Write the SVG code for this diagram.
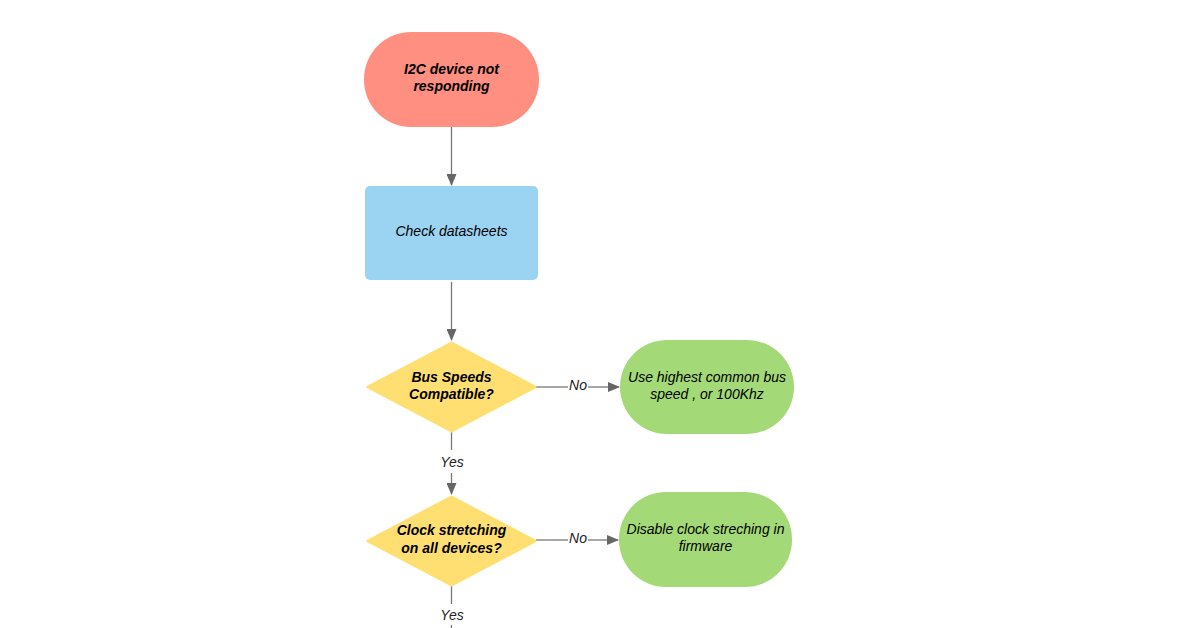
<svg xmlns="http://www.w3.org/2000/svg" width="1200" height="628" viewBox="0 0 1200 628">
<style>
.t{font-family:"Liberation Sans",Arial,sans-serif;font-size:14px;font-style:italic;fill:#000;text-anchor:middle}
.b{font-weight:bold}
.l{font-family:"Liberation Sans",Arial,sans-serif;font-size:14px;font-style:italic;fill:#222;text-anchor:middle}
.c{stroke:#777;stroke-width:1.3;fill:none}
</style>
<defs>
<marker id="ah" markerWidth="12" markerHeight="10" refX="11" refY="5" orient="auto" markerUnits="userSpaceOnUse">
<path d="M0,0 L12,5 L0,10 Z" fill="#666"/>
</marker>
</defs>
<rect width="1200" height="628" fill="#fff"/>
<g id="connectors">
<line class="c" x1="451.5" y1="127" x2="451.5" y2="185" marker-end="url(#ah)"/>
<line class="c" x1="451.5" y1="282" x2="451.5" y2="340" marker-end="url(#ah)"/>
<line class="c" x1="536" y1="387" x2="568" y2="387"/>
<text class="l" x="578" y="390">No</text>
<line class="c" x1="588" y1="387" x2="619" y2="387" marker-end="url(#ah)"/>
<line class="c" x1="451.5" y1="432" x2="451.5" y2="450"/>
<text class="l" x="452" y="467">Yes</text>
<line class="c" x1="451.5" y1="473" x2="451.5" y2="494" marker-end="url(#ah)"/>
<line class="c" x1="536" y1="540" x2="568" y2="540"/>
<text class="l" x="578" y="543">No</text>
<line class="c" x1="588" y1="540" x2="618" y2="540" marker-end="url(#ah)"/>
<line class="c" x1="451.5" y1="586" x2="451.5" y2="604"/>
<text class="l" x="452" y="620">Yes</text>
<line class="c" x1="451.5" y1="625" x2="451.5" y2="628"/>
</g>
<g id="start">
<rect x="364" y="32" width="175" height="95" rx="47" ry="47" fill="#ff8f80"/>
<text class="t b" x="451.5" y="74">I2C device not</text>
<text class="t b" x="451.5" y="91">responding</text>
</g>
<g id="check">
<rect x="365" y="186" width="173" height="94" rx="5" ry="5" fill="#9bd3f2"/>
<text class="t" x="451.5" y="236">Check datasheets</text>
</g>
<g id="bus">
<path d="M451.5,343 L535,387 L451.5,431 L368,387 Z" fill="#ffdf71" stroke="#ffdf71" stroke-width="3" stroke-linejoin="round"/>
<text class="t b" x="451.5" y="382">Bus Speeds</text>
<text class="t b" x="451.5" y="399">Compatible?</text>
</g>
<g id="usehigh">
<rect x="620" y="340" width="174" height="94" rx="47" ry="47" fill="#a3d977"/>
<text class="t" x="707" y="382">Use highest common bus</text>
<text class="t" x="707" y="399">speed , or 100Khz</text>
</g>
<g id="clock">
<path d="M451.5,497 L535,541 L451.5,585 L368,541 Z" fill="#ffdf71" stroke="#ffdf71" stroke-width="3" stroke-linejoin="round"/>
<text class="t b" x="451.5" y="535">Clock stretching</text>
<text class="t b" x="451.5" y="553">on all devices?</text>
</g>
<g id="disable">
<rect x="619" y="492" width="173" height="95" rx="47" ry="47" fill="#a3d977"/>
<text class="t" x="705.5" y="534">Disable clock streching in</text>
<text class="t" x="705.5" y="551">firmware</text>
</g>
</svg>
